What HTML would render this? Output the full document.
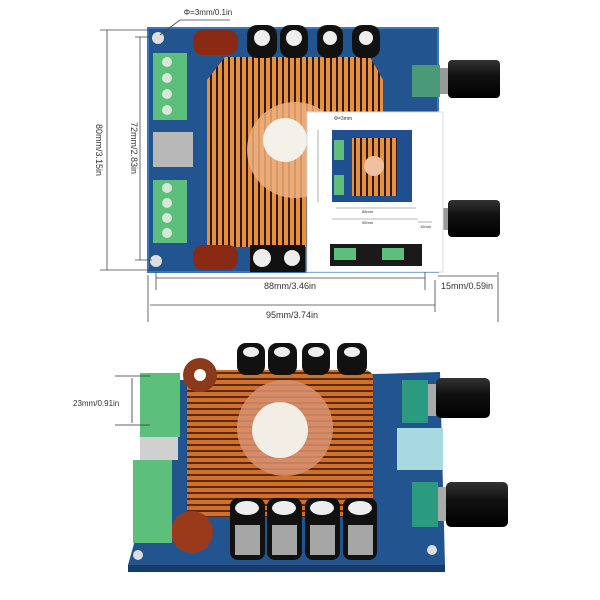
<!DOCTYPE html>
<html><head><meta charset="utf-8"><style>
html,body{margin:0;padding:0;background:#fff}
svg{display:block}
text{font-family:"Liberation Sans",sans-serif;fill:#333}
</style></head><body>
<svg width="600" height="600" viewBox="0 0 600 600" xmlns="http://www.w3.org/2000/svg">
<defs>
<linearGradient id="kn" x1="0" y1="0" x2="0" y2="1"><stop offset="0" stop-color="#333"/><stop offset="0.4" stop-color="#111"/><stop offset="1" stop-color="#000"/></linearGradient>
<pattern id="fins" width="6" height="6" patternUnits="userSpaceOnUse"><rect width="6" height="6" fill="#e8903e"/><rect width="2" height="6" fill="#2a1a10"/></pattern>
<pattern id="finsH" width="6" height="6" patternUnits="userSpaceOnUse"><rect width="6" height="6" fill="#d0702a"/><rect width="6" height="2" fill="#5a2a10"/></pattern>
</defs>

<!-- ===== TOP BOARD ===== -->
<rect x="148" y="28" width="290" height="244" fill="#22558f"/>
<rect x="148" y="28" width="290" height="244" fill="none" stroke="#3a78b8" stroke-width="2"/>
<circle cx="158" cy="38" r="6" fill="#ddd"/><circle cx="156" cy="261" r="6" fill="#ddd"/>
<path d="M225 57 L370 57 L383 80 L383 247 L207 247 L207 80 Z" fill="url(#fins)"/>
<circle cx="295" cy="150" r="48" fill="#f0b080" opacity="0.85"/>
<circle cx="285" cy="140" r="22" fill="#f4f0ea"/>
<g fill="#111"><rect x="247" y="25" width="30" height="33" rx="10"/><rect x="280" y="25" width="28" height="33" rx="10"/><rect x="317" y="25" width="26" height="33" rx="10"/><rect x="352" y="25" width="28" height="33" rx="10"/></g>
<g fill="#eee"><circle cx="262" cy="38" r="8"/><circle cx="294" cy="38" r="8"/><circle cx="330" cy="38" r="7"/><circle cx="366" cy="38" r="7"/></g>
<rect x="250" y="245" width="55" height="27" fill="#111"/><circle cx="262" cy="258" r="9" fill="#eee"/><circle cx="292" cy="258" r="8" fill="#eee"/>
<rect x="193" y="30" width="45" height="25" rx="10" fill="#8a2a14"/>
<rect x="193" y="245" width="45" height="25" rx="10" fill="#8a2a14"/>
<rect x="153" y="53" width="34" height="67" fill="#5cbf7c"/>
<rect x="153" y="180" width="34" height="63" fill="#5cbf7c"/>
<g fill="#d8e8d8"><circle cx="167" cy="62" r="5"/><circle cx="167" cy="78" r="5"/><circle cx="167" cy="94" r="5"/><circle cx="167" cy="110" r="5"/><circle cx="167" cy="188" r="5"/><circle cx="167" cy="203" r="5"/><circle cx="167" cy="218" r="5"/><circle cx="167" cy="233" r="5"/></g>
<rect x="153" y="132" width="40" height="35" fill="#b8b8b8"/>
<rect x="412" y="65" width="28" height="32" fill="#4a9a7a"/>
<rect x="440" y="68" width="8" height="26" fill="#999"/>
<rect x="448" y="60" width="52" height="38" rx="4" fill="url(#kn)"/>
<rect x="440" y="208" width="8" height="22" fill="#999"/>
<rect x="448" y="200" width="52" height="37" rx="4" fill="url(#kn)"/>
<rect x="307" y="112" width="136" height="160" fill="#fff" stroke="#ddd"/>
<rect x="332" y="130" width="80" height="72" fill="#1f4f8f"/>
<rect x="352" y="138" width="45" height="58" fill="url(#fins)"/>
<circle cx="374" cy="166" r="10" fill="#f0c0a0"/>
<rect x="334" y="140" width="10" height="20" fill="#5cbf7c"/><rect x="334" y="175" width="10" height="20" fill="#5cbf7c"/>
<rect x="330" y="244" width="92" height="22" fill="#1a1a1a"/>
<rect x="334" y="248" width="22" height="12" fill="#5cbf7c"/><rect x="382" y="248" width="22" height="12" fill="#5cbf7c"/>
<g stroke="#777" stroke-width="0.6" fill="none"><line x1="336" y1="208" x2="416" y2="208"/><line x1="332" y1="219" x2="418" y2="219"/><line x1="418" y1="222" x2="432" y2="222"/><line x1="318" y1="130" x2="318" y2="202"/></g>
<text x="362" y="213" font-size="4">88mm</text><text x="362" y="224" font-size="4">95mm</text><text x="420" y="228" font-size="4">15mm</text><text x="334" y="120" font-size="5">Φ=3mm</text>
<g stroke="#444" stroke-width="0.8" fill="none">
<line x1="107" y1="30" x2="107" y2="270"/><line x1="100" y1="30" x2="150" y2="30"/><line x1="100" y1="270" x2="150" y2="270"/>
<line x1="140" y1="37" x2="140" y2="260"/><line x1="135" y1="37" x2="152" y2="37"/><line x1="135" y1="260" x2="152" y2="260"/>
<line x1="156" y1="278" x2="425" y2="278"/><line x1="156" y1="272" x2="156" y2="290"/><line x1="425" y1="272" x2="425" y2="290"/>
<line x1="150" y1="305" x2="435" y2="305"/><line x1="148" y1="275" x2="148" y2="322"/><line x1="435" y1="280" x2="435" y2="312"/>
<line x1="438" y1="276" x2="497" y2="276"/><line x1="498" y1="272" x2="498" y2="322"/>
<line x1="180" y1="20" x2="230" y2="20"/><line x1="180" y1="20" x2="160" y2="35"/>
</g>
<text x="208" y="15" font-size="8" text-anchor="middle">Φ=3mm/0.1in</text>
<text x="290" y="289" font-size="9" text-anchor="middle">88mm/3.46in</text>
<text x="467" y="289" font-size="9" text-anchor="middle">15mm/0.59in</text>
<text x="292" y="318" font-size="9" text-anchor="middle">95mm/3.74in</text>
<text transform="translate(96,150) rotate(90)" font-size="9" text-anchor="middle">80mm/3.15in</text>
<text transform="translate(131,148) rotate(90)" font-size="9" text-anchor="middle">72mm/2.83in</text>

<!-- ===== BOTTOM BOARD ===== -->
<polygon points="180,380 440,372 445,565 128,565" fill="#22558f"/>
<polygon points="128,565 445,565 445,572 128,572" fill="#163a6a"/>
<circle cx="138" cy="555" r="5" fill="#ddd"/><circle cx="432" cy="550" r="5" fill="#ddd"/>
<rect x="187" y="370" width="186" height="147" rx="8" fill="url(#finsH)"/>
<circle cx="285" cy="428" r="48" fill="#d89070" opacity="0.85"/>
<circle cx="280" cy="430" r="28" fill="#f2eee6"/>
<g fill="#111"><rect x="237" y="343" width="28" height="32" rx="9"/><rect x="268" y="343" width="29" height="32" rx="9"/><rect x="302" y="343" width="28" height="32" rx="9"/><rect x="337" y="343" width="30" height="32" rx="9"/></g>
<g fill="#eee"><ellipse cx="251" cy="352" rx="8" ry="5"/><ellipse cx="282" cy="352" rx="8" ry="5"/><ellipse cx="316" cy="352" rx="8" ry="5"/><ellipse cx="352" cy="352" rx="8" ry="5"/></g>
<g fill="#111"><rect x="230" y="498" width="35" height="62" rx="8"/><rect x="267" y="498" width="35" height="62" rx="8"/><rect x="305" y="498" width="35" height="62" rx="8"/><rect x="343" y="498" width="34" height="62" rx="8"/></g>
<g fill="#eee"><ellipse cx="247" cy="508" rx="12" ry="7"/><ellipse cx="284" cy="508" rx="12" ry="7"/><ellipse cx="322" cy="508" rx="12" ry="7"/><ellipse cx="360" cy="508" rx="12" ry="7"/></g>
<g fill="#ccc" opacity="0.8"><rect x="235" y="525" width="25" height="30"/><rect x="272" y="525" width="25" height="30"/><rect x="310" y="525" width="25" height="30"/><rect x="348" y="525" width="25" height="30"/></g>
<circle cx="200" cy="375" r="17" fill="#8a3a1a"/><circle cx="200" cy="375" r="6" fill="#fff"/>
<circle cx="192" cy="532" r="21" fill="#9a3a1a"/>
<rect x="140" y="373" width="40" height="64" fill="#5cbf7c"/>
<rect x="140" y="437" width="38" height="23" fill="#d0d0d0"/>
<rect x="133" y="460" width="39" height="83" fill="#5cbf7c"/>
<rect x="402" y="380" width="26" height="43" fill="#2a9a80"/>
<rect x="428" y="384" width="8" height="32" fill="#aaa"/>
<rect x="436" y="378" width="54" height="40" rx="5" fill="url(#kn)"/>
<rect x="397" y="428" width="46" height="42" fill="#a8d8e0"/>
<rect x="412" y="482" width="26" height="45" fill="#2a9a80"/>
<rect x="438" y="487" width="8" height="34" fill="#aaa"/>
<rect x="446" y="482" width="62" height="45" rx="5" fill="url(#kn)"/>
<g stroke="#333" stroke-width="0.8"><line x1="132" y1="378" x2="132" y2="423"/><line x1="115" y1="376" x2="150" y2="376"/><line x1="115" y1="425" x2="150" y2="425"/></g>
<text x="73" y="406" font-size="8">23mm/0.91in</text>
</svg>
</body></html>
